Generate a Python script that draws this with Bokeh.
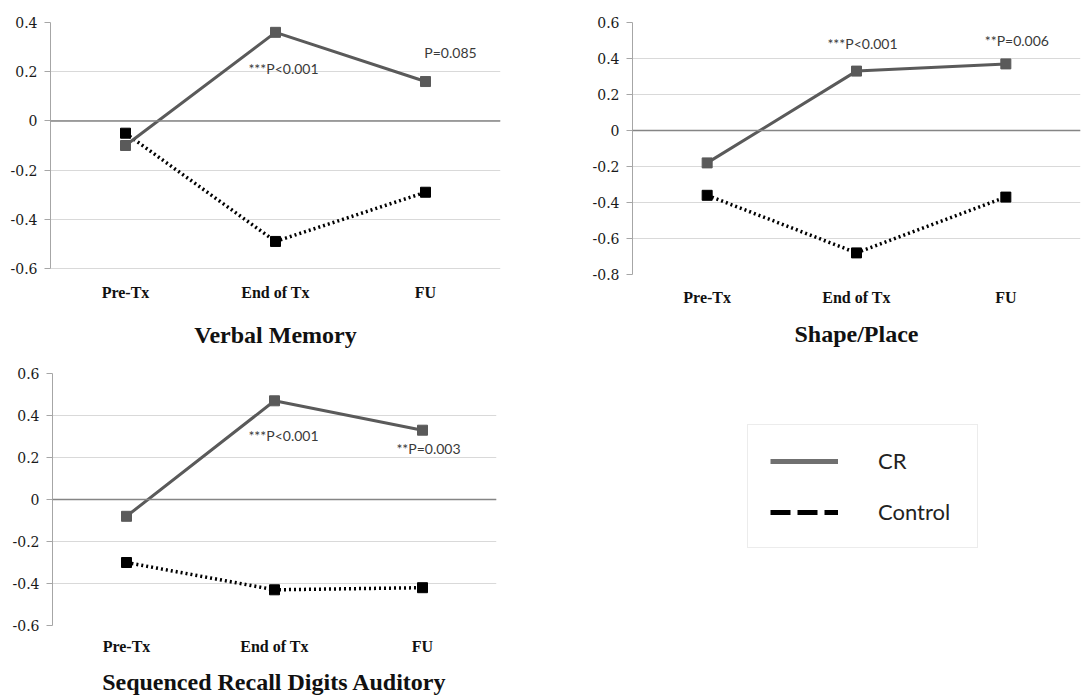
from bokeh.plotting import figure
from bokeh.models import (FactorRange, Range1d, FixedTicker, Span, Legend, LegendItem,
                          CustomJSTickFormatter)
from bokeh.layouts import column, row
from bokeh.embed import file_html
from bokeh.resources import INLINE
from bokeh.core.properties import value

# ---------------- data ----------------
timepoints = ["Pre-Tx", "End of Tx", "FU"]
series_names = ["CR", "Control"]

verbal_cr = [-0.10, 0.36, 0.16]
verbal_control = [-0.05, -0.49, -0.29]

shape_cr = [-0.18, 0.33, 0.37]
shape_control = [-0.36, -0.68, -0.37]

digits_cr = [-0.08, 0.47, 0.33]
digits_control = [-0.30, -0.43, -0.42]

verbal_ticks = [-0.6, -0.4, -0.2, 0, 0.2, 0.4]
verbal_tick_labels = ["-0.6", "-0.4", "-0.2", "0", "0.2", "0.4"]
shape_ticks = [-0.8, -0.6, -0.4, -0.2, 0, 0.2, 0.4, 0.6]
shape_tick_labels = ["-0.8", "-0.6", "-0.4", "-0.2", "0", "0.2", "0.4", "0.6"]
digits_ticks = [-0.6, -0.4, -0.2, 0, 0.2, 0.4, 0.6]
digits_tick_labels = ["-0.6", "-0.4", "-0.2", "0", "0.2", "0.4", "0.6"]

panel_titles = ["Verbal Memory", "Shape/Place", "Sequenced Recall Digits Auditory"]

verbal_pvalues = ["***P<0.001", "P=0.085"]
shape_pvalues = ["***P<0.001", "**P=0.006"]
digits_pvalues = ["***P<0.001", "**P=0.003"]

# ---------------- style ----------------
CR_COLOR = "#5a5a5a"
CTRL_COLOR = "#000000"
GRID_COLOR = "#d9d9d9"
SERIF = "Liberation Serif"
TICK_SERIF = "DejaVu Serif"
SANS = "Lato"

TICK_JS = """
for (let i = 0; i < tvals.length; i++) {
    if (Math.abs(tick - tvals[i]) < 1e-9) { return tlabels[i]; }
}
return "";
"""


def make_panel(title, cr, ctrl, ticks, tick_labels, annotations, width, height,
               b_left, b_right, b_top, b_bottom, lab_standoff, title_standoff,
               bottom_pad=0.0, line_height=1.2):
    span = ticks[-1] - ticks[0]
    p = figure(x_range=FactorRange(factors=timepoints, range_padding=0),
               y_range=Range1d(ticks[0] - bottom_pad * span, ticks[-1]),
               width=width, height=height, output_backend="svg",
               toolbar_location=None,
               min_border_left=b_left, min_border_right=b_right,
               min_border_top=b_top, min_border_bottom=b_bottom)
    p.outline_line_color = None
    p.background_fill_color = "white"
    p.xgrid.visible = False
    p.ygrid.ticker = FixedTicker(ticks=ticks)
    p.ygrid.grid_line_color = GRID_COLOR
    p.ygrid.grid_line_width = 1

    p.yaxis.ticker = FixedTicker(ticks=ticks)
    p.yaxis.bounds = (ticks[0], ticks[-1])
    p.yaxis.formatter = CustomJSTickFormatter(args=dict(tvals=ticks, tlabels=tick_labels),
                                              code=TICK_JS)
    p.yaxis.axis_line_color = "#a6a6a6"
    p.yaxis.major_tick_line_color = "#a6a6a6"
    p.yaxis.major_tick_out = 6
    p.yaxis.major_tick_in = 0
    p.yaxis.minor_tick_line_color = None
    p.yaxis.major_label_standoff = 7
    p.yaxis.major_label_text_font = TICK_SERIF
    p.yaxis.major_label_text_font_size = "14px"
    p.yaxis.major_label_text_color = "#1a1a1a"

    p.xaxis.axis_line_color = None
    p.xaxis.major_tick_line_color = None
    p.xaxis.minor_tick_line_color = None
    p.xaxis.major_tick_out = 0
    p.xaxis.major_label_standoff = lab_standoff
    p.xaxis.major_label_text_font = SERIF
    p.xaxis.major_label_text_font_style = "bold"
    p.xaxis.major_label_text_font_size = "16px"
    p.xaxis.major_label_text_color = "#111111"
    p.xaxis.major_label_text_line_height = line_height
    p.xaxis.axis_label = title
    p.xaxis.axis_label_standoff = title_standoff
    p.xaxis.axis_label_text_font = SERIF
    p.xaxis.axis_label_text_font_style = "bold"
    p.xaxis.axis_label_text_font_size = "24px"
    p.xaxis.axis_label_text_color = "#111111"
    p.xaxis.axis_label_text_line_height = line_height

    zero = Span(location=0, dimension="width", line_color="#858585", line_width=1.5)
    p.add_layout(zero)

    p.line(timepoints, ctrl, line_color=CTRL_COLOR, line_width=3.5, line_dash="2 3")
    p.scatter(timepoints, ctrl, marker="square", size=10, fill_color=CTRL_COLOR,
              line_color=CTRL_COLOR)
    p.line(timepoints, cr, line_color=CR_COLOR, line_width=3)
    p.scatter(timepoints, cr, marker="square", size=10, fill_color=CR_COLOR,
              line_color=CR_COLOR)

    for text, cat, yv, dx in annotations:
        p.text(x=[cat], y=[yv], text=[text], x_offset=dx,
               text_align="center", text_baseline="middle",
               text_font=value(SANS), text_font_size="14px", text_color="#3a3a3a")
    return p


# top row: frames share top/bottom edges (22..274); the verbal panel's
# bottom tick sits 6px above its frame edge
p1 = make_panel(panel_titles[0], verbal_cr, verbal_control, verbal_ticks, verbal_tick_labels,
                [(verbal_pvalues[0], timepoints[1], 0.215, 8),
                 (verbal_pvalues[1], timepoints[2], 0.28, 25)],
                width=548, height=354, b_left=50, b_right=48, b_top=22, b_bottom=80,
                lab_standoff=9, title_standoff=18, bottom_pad=6.0 / 246.0)

p2 = make_panel(panel_titles[1], shape_cr, shape_control, shape_ticks, shape_tick_labels,
                [(shape_pvalues[0], timepoints[1], 0.485, 6),
                 (shape_pvalues[1], timepoints[2], 0.50, 11)],
                width=538, height=354, b_left=84, b_right=6, b_top=22, b_bottom=80,
                lab_standoff=14, title_standoff=12)

p3 = make_panel(panel_titles[2], digits_cr, digits_control, digits_ticks, digits_tick_labels,
                [(digits_pvalues[0], timepoints[1], 0.305, 9),
                 (digits_pvalues[1], timepoints[2], 0.243, 6)],
                width=548, height=344, b_left=52, b_right=52, b_top=19, b_bottom=73,
                lab_standoff=12, title_standoff=11, line_height=1.0)

# ---------------- legend panel ----------------
pl = figure(width=538, height=344, output_backend="svg", toolbar_location=None,
            x_range=Range1d(0, 1), y_range=Range1d(0, 1),
            x_axis_location=None, y_axis_location=None,
            min_border=0)
pl.outline_line_color = None
pl.xgrid.visible = False
pl.ygrid.visible = False
r_cr = pl.line(x=list(range(len(timepoints))), y=digits_cr, line_color="#707070",
               line_width=5, visible=False)
r_ctrl = pl.line(x=list(range(len(timepoints))), y=digits_control, line_color="#000000",
                 line_width=5, line_dash="20 7", visible=False)
legend = Legend(items=[LegendItem(label=series_names[0], renderers=[r_cr]),
                       LegendItem(label=series_names[1], renderers=[r_ctrl])],
                location=(199, 77))
legend.border_line_color = GRID_COLOR
legend.border_line_width = 1
legend.background_fill_color = "white"
legend.padding = 22
legend.margin = 0
legend.spacing = 24
legend.glyph_width = 68
legend.glyph_height = 24
legend.label_height = 24
legend.label_width = 77
legend.label_standoff = 40
legend.label_text_font = SANS
legend.label_text_font_size = "22px"
legend.label_text_color = "#222222"
pl.add_layout(legend)

layout = column(row(p1, p2), row(p3, pl))

open("out.html", "w").write(file_html(layout, INLINE))
